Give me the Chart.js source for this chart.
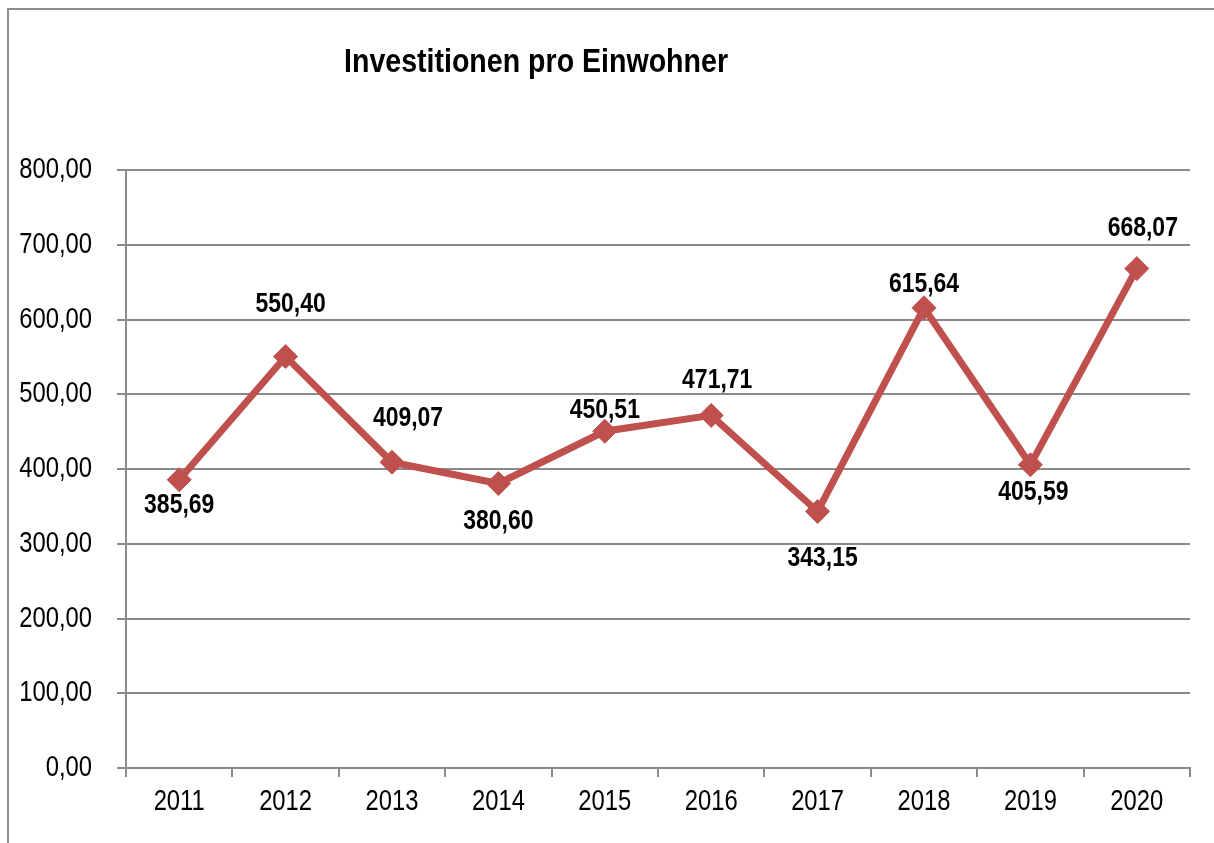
<!DOCTYPE html>
<html lang="de">
<head>
<meta charset="utf-8">
<title>Investitionen pro Einwohner</title>
<script src="https://cdn.jsdelivr.net/npm/chart.js@4"></script>
<style>
    html, body { margin: 0; padding: 0; background: #fff; overflow: hidden; }
    #frame {
        position: absolute; left: 7px; top: 8px;
        width: 1240px; height: 880px;
        border: 2px solid #8c8c8c;
    }
    #wrap { position: absolute; left: 0; top: 0; width: 1214px; height: 843px; }
</style>
</head>
<body>
<div id="frame"></div>
<div id="wrap"><canvas id="chart" width="1214" height="843"></canvas></div>
<script>
// Daten
const years = ['2011', '2012', '2013', '2014', '2015', '2016', '2017', '2018', '2019', '2020'];
const investPerHead = [385.69, 550.40, 409.07, 380.60, 450.51, 471.71, 343.15, 615.64, 405.59, 668.07];
const yTicks = [0, 100, 200, 300, 400, 500, 600, 700, 800];

// Beschriftungen: Versatz relativ zum Punkt (wie in Excel verschoben)
const labelDx = [0, 5, 16, 0, 0, 6, 5, 0, 3, 6];
const labelDy = [26, -52, -44, 38, -21, -35, 47, -24, 27, -40];

const fontFam = "'Liberation Sans', Arial, sans-serif";
const narrowFactor = 0.82;   // kein Arial Narrow vorhanden -> Text horizontal stauchen
const gridGray = '#8a8a8a';
const lineRed = '#c0504d';

const fmt = v => v.toFixed(2).replace('.', ',');

// schmaler Text (wie Arial Narrow)
function narrowText(ctx, text, x, y) {
    const w = ctx.measureText(text).width * narrowFactor;
    ctx.fillText(text, x, y, w);
}

// Titel, Achsenbeschriftung, Datenbeschriftungen
const textPlugin = {
    id: 'texts',
    afterDraw(chart) {
        const ctx = chart.ctx;
        const meta = chart.getDatasetMeta(0);
        const xs = chart.scales.x;
        const ys = chart.scales.y;
        ctx.save();
        ctx.fillStyle = '#000';

        // y-Achse
        ctx.font = '29px ' + fontFam;
        ctx.textAlign = 'right';
        ctx.textBaseline = 'middle';
        yTicks.forEach(v => {
            narrowText(ctx, fmt(v), 92, ys.getPixelForValue(v));
        });

        // x-Achse
        ctx.textAlign = 'center';
        years.forEach((yr, i) => {
            narrowText(ctx, yr, xs.getPixelForValue(i), xs.top + 34);
        });

        // Datenbeschriftungen
        ctx.font = 'bold 28px ' + fontFam;
        meta.data.forEach((pt, i) => {
            narrowText(ctx, fmt(investPerHead[i]), pt.x + labelDx[i], pt.y + labelDy[i]);
        });

        // Titel
        ctx.font = 'bold 34px ' + fontFam;
        ctx.textBaseline = 'alphabetic';
        ctx.fillText('Investitionen pro Einwohner', 536, 72, 384);
        ctx.restore();
    }
};

const ctx = document.getElementById('chart').getContext('2d');
const chart = new Chart(ctx, {
    type: 'line',
    data: {
        labels: years,
        datasets: [{
            label: 'Investitionen pro Einwohner',
            data: investPerHead,
            borderColor: lineRed,
            backgroundColor: lineRed,
            borderWidth: 7,
            pointStyle: 'rectRot',
            pointRadius: 12,
            pointBorderWidth: 1,
            pointBackgroundColor: lineRed,
            pointBorderColor: lineRed,
            tension: 0,
            fill: false
        }]
    },
    options: {
        responsive: false,
        animation: false,
        layout: { padding: { top: 170, right: 24, left: 0, bottom: 0 } },
        plugins: {
            legend: { display: false },
            title: { display: false },
            tooltip: { enabled: false }
        },
        scales: {
            x: {
                offset: true,
                grid: {
                    offset: true,
                    drawOnChartArea: false,
                    drawTicks: true,
                    tickLength: 9,
                    color: gridGray,
                    lineWidth: 2
                },
                border: { color: gridGray, width: 2 },
                ticks: { display: false },
                afterFit: s => { s.height = 75; }
            },
            y: {
                min: 0,
                max: 800,
                afterBuildTicks: s => { s.ticks = yTicks.map(v => ({ value: v })); },
                grid: {
                    color: gridGray,
                    lineWidth: 2,
                    drawTicks: true,
                    tickLength: 9
                },
                border: { color: gridGray, width: 2 },
                ticks: { display: false },
                afterFit: s => { s.width = 126; }
            }
        }
    },
    plugins: [textPlugin]
});
</script>
</body>
</html>
